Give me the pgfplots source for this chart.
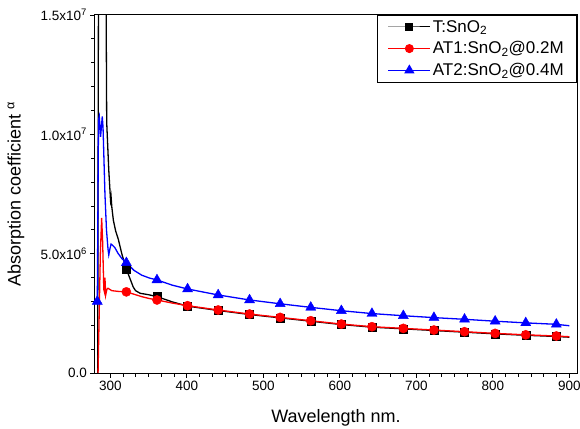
\documentclass[border=0pt]{standalone}
\usepackage{fontspec}
\setmainfont{Liberation Sans}
\usepackage{pgfplots}
\pgfplotsset{compat=1.18}

\begin{document}
\begin{tikzpicture}
\begin{axis}[
    width=482pt, height=358pt,
    scale only axis,
    xmin=280, xmax=910,
    ymin=0, ymax=1.5e7,
    xtick={300,400,...,900},
    minor x tick num=5,
    ytick={0,5e6,1e7,1.5e7},
    yticklabels={0.0, 5.0x10\textsuperscript{6}, 1.0x10\textsuperscript{7}, 1.5x10\textsuperscript{7}},
    minor y tick num=4,
    scaled y ticks=false,
    tick align=outside,
    xtick pos=left, ytick pos=left,
    major tick length=4.5pt, minor tick length=3.5pt,
    every tick/.style={black, line width=0.8pt},
    axis line style={line width=1pt},
    /pgf/number format/assume math mode=true,
    ticklabel style={font=\fontsize{13.5}{16}\selectfont},
    xlabel={Wavelength nm.},
    ylabel={Absorption coefficient \textsuperscript{α}},
    every axis x label/.style={at={([yshift=-45pt]rel axis cs:0.5,0)}, anchor=center,
        font=\fontsize{18}{21}\selectfont},
    every axis y label/.style={at={([xshift=-79pt]rel axis cs:0,0.5)}, anchor=center,
        rotate=90, font=\fontsize{18}{21}\selectfont},
    legend style={at={(rel axis cs:1,1)}, anchor=north east, draw=black,
        line width=0.6pt, font=\fontsize{17}{20}\selectfont,
        inner xsep=11pt, inner ysep=3pt, row sep=4pt},
    legend cell align=left,
    legend image code/.code={
        \draw[mark repeat=2, mark phase=2, #1] plot coordinates {(0pt,0pt) (21pt,0pt) (42pt,0pt)};
    },
]
\addlegendimage{black, line width=1pt, mark=square*, mark size=3.5pt}
\addlegendimage{red, line width=1pt, mark=*, mark size=4pt}
\addlegendimage{blue, line width=1pt, mark=triangle*, mark size=5pt}
\legend{T:SnO\textsubscript{2}, AT1:SnO\textsubscript{2}@0.2M, AT2:SnO\textsubscript{2}@0.4M}

% T:SnO2 line
\addplot[black, line width=1.3pt, forget plot] coordinates {
(283.5,0) (284.8,2e7) (293.8,2e7) (295.3,1.05e7) (298,8.5e6) (300.3,7.25e6)
(301,7.4e6) (302,6.95e6) (304,6.4e6) (307,5.95e6) (310.5,5.6e6) (315,5.0e6)
(321,4.35e6) (324,4.1e6) (327,3.85e6) (330,3.6e6) (333,3.45e6) (339,3.34e6)
(350,3.28e6) (361,3.2e6) (381,2.98e6) (401,2.80e6) (441,2.62e6) (482,2.45e6)
(522,2.31e6) (562,2.17e6) (602,2.03e6) (642,1.92e6) (683,1.85e6) (723,1.78e6)
(763,1.71e6) (803,1.64e6) (843,1.58e6) (883,1.53e6) (900,1.50e6)
};
\addplot[black, only marks, mark=square*, mark size=4pt, forget plot] coordinates {
(321,4.35e6) (361,3.2e6) (401,2.80e6) (441,2.62e6) (482,2.45e6) (522,2.31e6)
(562,2.17e6) (602,2.03e6) (642,1.92e6) (683,1.85e6) (723,1.78e6) (763,1.71e6)
(803,1.64e6) (843,1.58e6) (883,1.53e6)
};

% AT1:SnO2@0.2M line
\addplot[red, line width=1.3pt, forget plot] coordinates {
(284,0) (285.5,2.5e6) (287,5.0e6) (288.7,6.5e6) (290,5.5e6) (291.5,3.5e6)
(292.3,3.4e6) (293,4.0e6) (294,3.27e6) (295.5,3.5e6) (297,3.55e6) (302,3.45e6)
(310,3.42e6) (321,3.4e6) (331,3.3e6) (341,3.2e6) (351,3.12e6) (361,3.06e6)
(381,2.93e6) (401,2.82e6) (441,2.64e6) (482,2.47e6) (522,2.33e6) (562,2.19e6)
(602,2.05e6) (642,1.94e6) (683,1.87e6) (723,1.80e6) (763,1.73e6) (803,1.66e6)
(843,1.60e6) (883,1.55e6) (900,1.52e6)
};
\addplot[red, only marks, mark=*, mark size=4.6pt, forget plot] coordinates {
(321,3.4e6) (361,3.06e6) (401,2.82e6) (441,2.64e6) (482,2.47e6) (522,2.33e6)
(562,2.19e6) (602,2.05e6) (642,1.94e6) (683,1.87e6) (723,1.80e6) (763,1.73e6)
(803,1.66e6) (843,1.60e6) (883,1.55e6)
};

% AT2:SnO2@0.4M line
\addplot[blue, line width=1.3pt, forget plot] coordinates {
(283,3.0e6) (284.6,1.06e7) (285.6,1.075e7) (287.3,9.9e6) (289.5,1.075e7)
(290.5,1.03e7) (293,7.5e6) (295,6.0e6) (297,5.2e6) (298,4.95e6) (299.5,5.2e6)
(301,5.4e6) (303,5.35e6) (306,5.25e6) (310,5.02e6) (315,4.8e6) (321,4.62e6)
(331,4.3e6) (341,4.1e6) (351,3.98e6) (361,3.9e6) (381,3.68e6) (401,3.52e6)
(441,3.27e6) (482,3.06e6) (522,2.90e6) (562,2.75e6) (602,2.61e6) (642,2.49e6)
(683,2.40e6) (723,2.32e6) (763,2.25e6) (803,2.17e6) (843,2.10e6) (883,2.04e6)
(900,1.98e6)
};
\addplot[blue, only marks, mark=triangle*, mark size=5.8pt, forget plot] coordinates {
(283,3.0e6) (321,4.62e6) (361,3.9e6) (401,3.52e6) (441,3.27e6) (482,3.06e6)
(522,2.90e6) (562,2.75e6) (602,2.61e6) (642,2.49e6) (683,2.40e6) (723,2.32e6)
(763,2.25e6) (803,2.17e6) (843,2.10e6) (883,2.04e6)
};
\end{axis}
\pgfresetboundingbox
\path[use as bounding box] ([shift={(-95pt,-55pt)}]current axis.south west)
    rectangle ([shift={(3pt,15pt)}]current axis.north east);
\end{tikzpicture}
\end{document}
